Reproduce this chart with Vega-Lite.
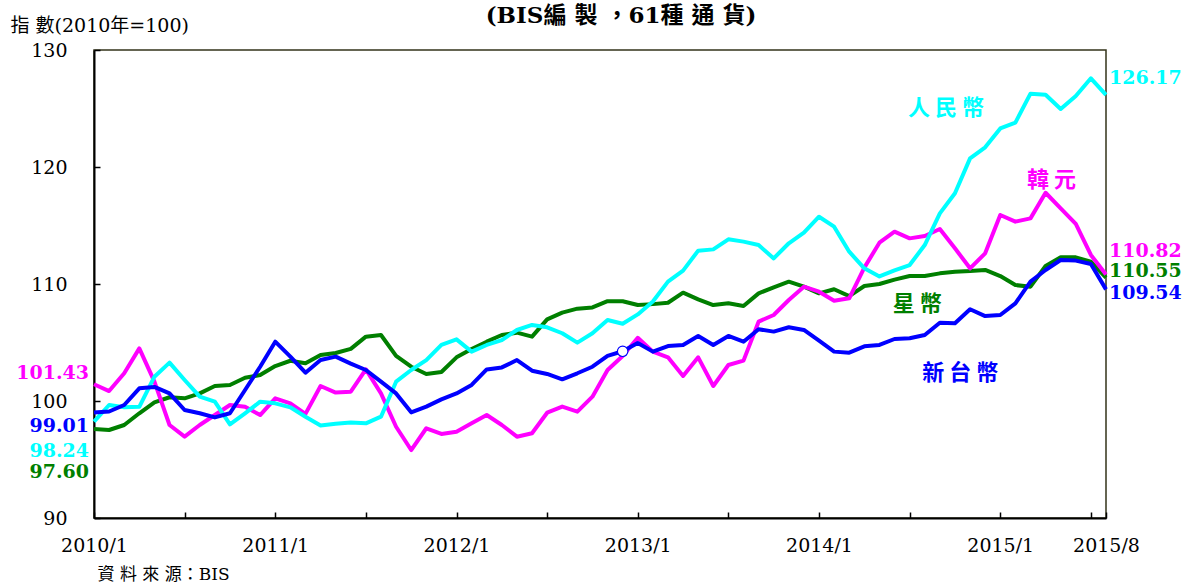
{
  "$schema": "https://vega.github.io/schema/vega-lite/v6.json",
  "width": 1012,
  "height": 468,
  "autosize": {"type": "none"},
  "padding": {"left": 94, "top": 50, "right": 76, "bottom": 65},
  "background": "white",
  "config": {"view": {"stroke": "#33331a", "strokeWidth": 1.5}},
  "title": {
    "text": "(BIS編 製 ，61種 通 貨)",
    "anchor": "middle",
    "dx": 21,
    "offset": -12,
    "font": "'DejaVu Serif', 'Noto Sans CJK TC'",
    "fontSize": 23,
    "fontWeight": "bold",
    "color": "black"
  },
  "datasets": {
    "idx": [
      {"i":0,"cny":98.24,"krw":101.43,"sgd":97.60,"twd":99.01},
      {"i":1,"cny":99.66,"krw":100.85,"sgd":97.52,"twd":99.10},
      {"i":2,"cny":99.46,"krw":102.37,"sgd":97.95,"twd":99.66},
      {"i":3,"cny":99.50,"krw":104.50,"sgd":98.95,"twd":101.08},
      {"i":4,"cny":102.08,"krw":101.65,"sgd":99.89,"twd":101.20},
      {"i":5,"cny":103.28,"krw":97.95,"sgd":100.32,"twd":100.65},
      {"i":6,"cny":101.80,"krw":96.95,"sgd":100.23,"twd":99.23},
      {"i":7,"cny":100.37,"krw":97.95,"sgd":100.65,"twd":98.95},
      {"i":8,"cny":99.94,"krw":98.80,"sgd":101.28,"twd":98.60},
      {"i":9,"cny":98.00,"krw":99.66,"sgd":101.37,"twd":98.95},
      {"i":10,"cny":98.95,"krw":99.50,"sgd":101.99,"twd":100.94},
      {"i":11,"cny":99.94,"krw":98.80,"sgd":102.22,"twd":102.93},
      {"i":12,"cny":99.80,"krw":100.23,"sgd":102.99,"twd":105.07},
      {"i":13,"cny":99.46,"krw":99.80,"sgd":103.44,"twd":103.79},
      {"i":14,"cny":98.66,"krw":98.90,"sgd":103.22,"twd":102.42},
      {"i":15,"cny":97.90,"krw":101.28,"sgd":103.93,"twd":103.50},
      {"i":16,"cny":98.06,"krw":100.72,"sgd":104.10,"twd":103.79},
      {"i":17,"cny":98.16,"krw":100.80,"sgd":104.46,"twd":103.20},
      {"i":18,"cny":98.09,"krw":102.70,"sgd":105.50,"twd":102.65},
      {"i":19,"cny":98.66,"krw":100.65,"sgd":105.64,"twd":101.65},
      {"i":20,"cny":101.65,"krw":97.80,"sgd":103.85,"twd":100.65},
      {"i":21,"cny":102.65,"krw":95.81,"sgd":102.93,"twd":99.03},
      {"i":22,"cny":103.50,"krw":97.67,"sgd":102.31,"twd":99.52},
      {"i":23,"cny":104.79,"krw":97.18,"sgd":102.48,"twd":100.14},
      {"i":24,"cny":105.27,"krw":97.38,"sgd":103.73,"twd":100.65},
      {"i":25,"cny":104.22,"krw":98.09,"sgd":104.44,"twd":101.37},
      {"i":26,"cny":104.79,"krw":98.80,"sgd":105.07,"twd":102.70},
      {"i":27,"cny":105.21,"krw":97.95,"sgd":105.64,"twd":102.87},
      {"i":28,"cny":106.07,"krw":96.95,"sgd":105.84,"twd":103.50},
      {"i":29,"cny":106.50,"krw":97.24,"sgd":105.50,"twd":102.59},
      {"i":30,"cny":106.30,"krw":99.00,"sgd":106.98,"twd":102.31},
      {"i":31,"cny":105.79,"krw":99.52,"sgd":107.55,"twd":101.85},
      {"i":32,"cny":104.99,"krw":99.09,"sgd":107.89,"twd":102.37},
      {"i":33,"cny":105.79,"krw":100.37,"sgd":108.00,"twd":102.93},
      {"i":34,"cny":106.92,"krw":102.65,"sgd":108.53,"twd":103.85},
      {"i":35,"cny":106.60,"krw":103.85,"sgd":108.53,"twd":104.25},
      {"i":36,"cny":107.40,"krw":105.40,"sgd":108.20,"twd":104.95},
      {"i":37,"cny":108.50,"krw":104.22,"sgd":108.28,"twd":104.22},
      {"i":38,"cny":110.20,"krw":103.73,"sgd":108.40,"twd":104.70},
      {"i":39,"cny":111.14,"krw":102.14,"sgd":109.26,"twd":104.79},
      {"i":40,"cny":112.85,"krw":103.73,"sgd":108.69,"twd":105.56},
      {"i":41,"cny":112.96,"krw":101.28,"sgd":108.20,"twd":104.79},
      {"i":42,"cny":113.82,"krw":103.08,"sgd":108.35,"twd":105.56},
      {"i":43,"cny":113.62,"krw":103.45,"sgd":108.12,"twd":105.07},
      {"i":44,"cny":113.33,"krw":106.78,"sgd":109.20,"twd":106.13},
      {"i":45,"cny":112.19,"krw":107.35,"sgd":109.72,"twd":105.93},
      {"i":46,"cny":113.48,"krw":108.63,"sgd":110.20,"twd":106.30},
      {"i":47,"cny":114.39,"krw":109.77,"sgd":109.77,"twd":106.07},
      {"i":48,"cny":115.75,"krw":109.34,"sgd":109.20,"twd":105.16},
      {"i":49,"cny":114.90,"krw":108.57,"sgd":109.55,"twd":104.22},
      {"i":50,"cny":112.76,"krw":108.78,"sgd":108.97,"twd":104.13},
      {"i":51,"cny":111.34,"krw":111.40,"sgd":109.83,"twd":104.67},
      {"i":52,"cny":110.65,"krw":113.53,"sgd":110.00,"twd":104.79},
      {"i":53,"cny":111.17,"krw":114.47,"sgd":110.37,"twd":105.30},
      {"i":54,"cny":111.62,"krw":113.90,"sgd":110.68,"twd":105.36},
      {"i":55,"cny":113.33,"krw":114.10,"sgd":110.68,"twd":105.64},
      {"i":56,"cny":116.04,"krw":114.70,"sgd":110.91,"twd":106.69},
      {"i":57,"cny":117.75,"krw":113.05,"sgd":111.05,"twd":106.64},
      {"i":58,"cny":120.74,"krw":111.34,"sgd":111.11,"twd":107.84},
      {"i":59,"cny":121.68,"krw":112.62,"sgd":111.20,"twd":107.26},
      {"i":60,"cny":123.30,"krw":115.90,"sgd":110.68,"twd":107.35},
      {"i":61,"cny":123.79,"krw":115.33,"sgd":109.91,"twd":108.35},
      {"i":62,"cny":126.27,"krw":115.61,"sgd":109.77,"twd":110.20},
      {"i":63,"cny":126.18,"krw":117.80,"sgd":111.54,"twd":111.20},
      {"i":64,"cny":124.96,"krw":116.47,"sgd":112.28,"twd":112.05},
      {"i":65,"cny":126.07,"krw":115.13,"sgd":112.28,"twd":112.00},
      {"i":66,"cny":127.58,"krw":112.48,"sgd":111.91,"twd":111.71},
      {"i":67,"cny":126.17,"krw":110.82,"sgd":110.55,"twd":109.54}
    ],
    "ann": [
      {"pos":"L","i":0,"v":102.39,"t":"101.43","s":"krw"},
      {"pos":"L","i":0,"v":97.89,"t":"99.01","s":"twd"},
      {"pos":"L","i":0,"v":95.75,"t":"98.24","s":"cny"},
      {"pos":"L","i":0,"v":93.96,"t":"97.60","s":"sgd"},
      {"pos":"R","i":67,"v":127.58,"t":"126.17","s":"cny"},
      {"pos":"R","i":67,"v":112.85,"t":"110.82","s":"krw"},
      {"pos":"R","i":67,"v":111.14,"t":"110.55","s":"sgd"},
      {"pos":"R","i":67,"v":109.2,"t":"109.54","s":"twd"},
      {"pos":"N","i":56.4,"v":125.07,"t":"人 民 幣","s":"cny"},
      {"pos":"N","i":63.4,"v":118.89,"t":"韓 元","s":"krw"},
      {"pos":"N","i":54.5,"v":108.29,"t":"星 幣","s":"sgd"},
      {"pos":"N","i":57.35,"v":102.37,"t":"新 台 幣","s":"twd"}
    ]
  },
  "encoding": {
    "x": {
      "field": "i",
      "type": "quantitative",
      "scale": {"domain": [0, 67], "nice": false, "zero": false},
      "axis": {
        "values": [0, 6, 12, 18, 24, 30, 36, 42, 48, 54, 60, 66, 67],
        "labelExpr": "datum.value == 67 ? '2015/8' : (datum.value % 12 == 0 ? (2010 + datum.value / 12) + '/1' : '')",
        "grid": false,
        "domainColor": "black",
        "domainWidth": 2,
        "tickColor": "black",
        "tickWidth": 1.5,
        "tickSize": -6,
        "labelPadding": 24,
        "labelFont": "DejaVu Serif",
        "labelFontSize": 19,
        "labelColor": "black",
        "labelFlush": false,
        "labelOverlap": false,
        "labelBound": false,
        "title": "資 料 來 源：BIS",
        "titleFont": "'DejaVu Serif', 'Noto Sans CJK TC'",
        "titleFontSize": 17,
        "titleFontWeight": "normal",
        "titleColor": "black",
        "titleAnchor": "start",
        "titleAlign": "left",
        "titleBaseline": "middle",
        "titleX": 3,
        "titleY": 56
      }
    },
    "y": {
      "field": "v",
      "type": "quantitative",
      "scale": {"domain": [90, 130], "nice": false, "zero": false},
      "axis": {
        "values": [90, 100, 110, 120, 130],
        "grid": false,
        "domainColor": "black",
        "domainWidth": 2,
        "tickColor": "black",
        "tickWidth": 1.5,
        "tickSize": -6,
        "labelPadding": 33,
        "labelFont": "DejaVu Serif",
        "labelFontSize": 19,
        "labelColor": "black",
        "labelFlush": false,
        "labelOverlap": false,
        "title": "指 數(2010年=100)",
        "titleFont": "'DejaVu Serif', 'Noto Sans CJK TC'",
        "titleFontSize": 19,
        "titleFontWeight": "normal",
        "titleColor": "black",
        "titleAngle": 0,
        "titleAlign": "left",
        "titleBaseline": "middle",
        "titleX": -84,
        "titleY": -25
      }
    },
    "color": {
      "field": "s",
      "type": "nominal",
      "scale": {"domain": ["cny", "krw", "sgd", "twd"], "range": ["#00FFFF", "#FF00FF", "#007F00", "#0000FF"]},
      "legend": null
    }
  },
  "layer": [
    {
      "data": {"name": "idx"},
      "transform": [{"fold": ["sgd", "krw", "cny", "twd"], "as": ["s", "v"]}],
      "mark": {"type": "line", "strokeWidth": 4, "strokeJoin": "round"}
    },
    {
      "data": {"name": "idx"},
      "transform": [{"fold": ["twd"], "as": ["s", "v"]}, {"filter": "datum.i == 35"}],
      "mark": {"type": "point", "shape": "circle", "size": 110, "filled": true, "fill": "white", "stroke": "#0000FF", "strokeWidth": 1.2, "opacity": 1}
    },
    {
      "data": {"name": "ann"},
      "transform": [{"filter": "datum.pos == 'L'"}],
      "mark": {"type": "text", "align": "right", "baseline": "middle", "dx": -5, "font": "DejaVu Serif", "fontSize": 19, "fontWeight": "bold"},
      "encoding": {"text": {"field": "t"}}
    },
    {
      "data": {"name": "ann"},
      "transform": [{"filter": "datum.pos == 'R'"}],
      "mark": {"type": "text", "align": "left", "baseline": "middle", "dx": 3, "font": "DejaVu Serif", "fontSize": 19, "fontWeight": "bold"},
      "encoding": {"text": {"field": "t"}}
    },
    {
      "data": {"name": "ann"},
      "transform": [{"filter": "datum.pos == 'N'"}],
      "mark": {"type": "text", "align": "center", "baseline": "middle", "font": "Noto Sans CJK TC", "fontSize": 22, "fontWeight": "bold"},
      "encoding": {"text": {"field": "t"}}
    }
  ]
}
